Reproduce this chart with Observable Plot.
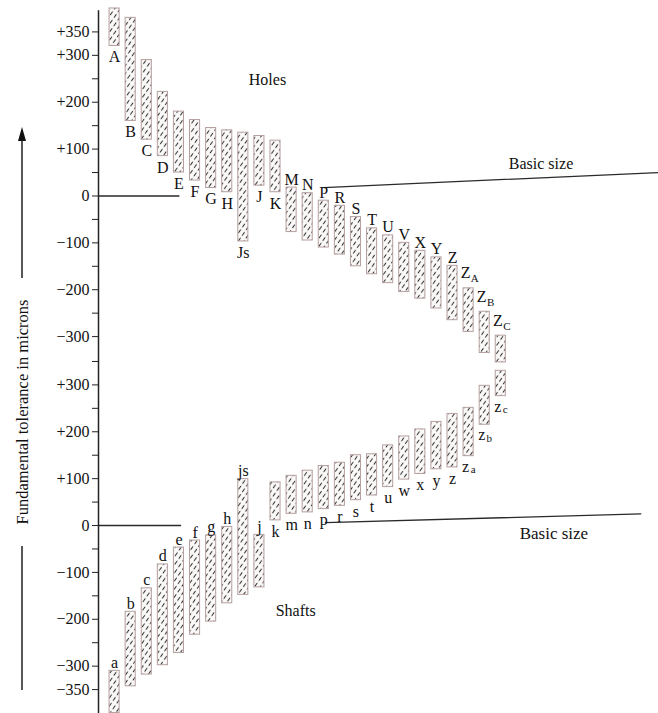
<!DOCTYPE html>
<html><head><meta charset="utf-8">
<script src="https://cdn.jsdelivr.net/npm/d3@7"></script>
<script src="https://cdn.jsdelivr.net/npm/@observablehq/plot@0.6"></script>
<style>body{margin:0;background:#fff} #chart svg{display:block}</style>
</head><body><div id="chart"></div>
<script>
// ---- data (values in microns) ----
const holeLabels = ["A","B","C","D","E","F","G","H","Js","J","K","M","N","P","R","S","T","U","V","X","Y","Z","ZA","ZB","ZC"];
const holeUpper  = [400,380,290,222,180,162,145,140,135,128,118,18,6,-10,-21,-45,-69,-84,-100,-117,-131,-149,-197,-247,-298];
const holeLower  = [320,160,120,85,50,33,17,8,-97,22,8,-77,-95,-110,-125,-150,-167,-186,-205,-219,-240,-265,-290,-335,-355];

const shaftLabels = ["a","b","c","d","e","f","g","h","js","j","k","m","n","p","r","s","t","u","w","x","y","z","za","zb","zc"];
const shaftUpper  = [-310,-184,-134,-83,-47,-32,-21,-3,99,-20,92,106,117,127,134,150,152,171,190,205,221,238,251,298,330];
const shaftLower  = [-400,-343,-318,-298,-272,-233,-205,-166,-148,-132,11,25,28,35,42,54,64,82,98,110,120,124,148,215,276];

const holeTicksMajor  = [350,300,200,100,0,-100,-200,-300];
const holeTicksMinor  = [250,150,50,-50,-150,-250];
const shaftTicksMajor = [300,200,100,0,-100,-200,-300,-350];
const shaftTicksMinor = [350,250,150,50,-50,-150,-250];

// basic-size reference lines: [category position, microns]
const holeBasic1  = [[-1,0],[4.0,0]];
const holeBasic2  = [[13.0,18],[33.8,50]];
const shaftBasic1 = [[-1,0],[4.1,0]];
const shaftBasic2 = [[13.1,6],[32.7,25]];

const annotations = [
  {text:"Holes", x:9.5, v:248, panel:"holes", size:16},
  {text:"Basic size", x:26.5, v:68, panel:"holes", size:16},
  {text:"Shafts", x:11.25, v:-183, panel:"shafts", size:16},
  {text:"Basic size", x:27.3, v:-17, panel:"shafts", size:17}
];
const yTitleText = "Fundamental tolerance in microns";

// ---- layout: the shafts panel is drawn below the holes panel ----
const SHAFT_SHIFT = -703;
const shift = p => p === "shafts" ? SHAFT_SHIFT : 0;

const bars = [
  ...holeLabels.map((label,i)=>({label,i,hi:holeUpper[i],lo:holeLower[i],panel:"holes"})),
  ...shaftLabels.map((label,i)=>({label,i,hi:shaftUpper[i],lo:shaftLower[i],panel:"shafts"}))
].map(d => {
  const sub = /^z[a-c]$/i.test(d.label);
  return {...d, y1:d.lo+shift(d.panel), y2:d.hi+shift(d.panel),
    below: (d.hi+d.lo)/2 > 0, main: sub ? d.label[0] : d.label, sub: sub ? d.label[1] : null};
});

const fmt = v => v > 0 ? "+" + v : v < 0 ? "\u2212" + Math.abs(v) : "0";
const lineData = (pts, panel) => pts.map(([x,v]) => ({x, y: v + shift(panel)}));

function hatchDefs() {
  const g = d3.create("svg:g");
  const p = g.append("defs").append("pattern")
    .attr("id","hatch").attr("patternUnits","userSpaceOnUse")
    .attr("width",4.6).attr("height",7).attr("patternTransform","rotate(35)");
  p.append("rect").attr("width",4.6).attr("height",7).attr("fill","#fcf9f9");
  p.append("line").attr("x1",2.3).attr("x2",2.3).attr("y1",0.8).attr("y2",5.2)
    .attr("stroke","#333").attr("stroke-width",1.05);
  return g.node();
}

function yTitle() {
  const g = d3.create("svg:g").attr("fill","#111").attr("stroke","#111");
  const cx = 22, cy = 412;
  g.append("text").attr("transform",`translate(${cx},${cy}) rotate(-90)`)
    .attr("text-anchor","middle").attr("dy","0.35em").attr("stroke","none")
    .attr("font-size",16.5).text(yTitleText);
  g.append("line").attr("x1",cx).attr("x2",cx).attr("y1",cy+134).attr("y2",690).attr("stroke-width",1.4);
  g.append("line").attr("x1",cx).attr("x2",cx).attr("y1",cy-134).attr("y2",138).attr("stroke-width",1.4);
  g.append("path").attr("d",`M${cx-4},${141}L${cx},${127}L${cx+4},${141}Z`).attr("stroke","none");
  return g.node();
}

const textBase = {x:"i", fill:"#111", fontSize:16};
const plot = Plot.plot({
  width: 658, height: 713,
  marginLeft: 98, marginRight: 0, marginTop: 0, marginBottom: 0,
  x: {type:"linear", domain:[-1, 33.8], axis:null},
  y: {domain:[-1104, 417], axis:null},
  style: {fontFamily:"'Liberation Serif', 'DejaVu Serif', serif", fontSize:"16px", background:"#fff", color:"#111"},
  marks: [
    hatchDefs,
    yTitle,
    Plot.ruleX([-1], {y1:395, y2:-1104, stroke:"#222", strokeWidth:1.5}),
    Plot.axisY(holeTicksMajor, {anchor:"left", tickSize:6, tickPadding:3, tickFormat:fmt, fontSize:16, label:null, stroke:"#222"}),
    Plot.axisY(holeTicksMinor, {anchor:"left", tickSize:6, tickFormat:()=>"", label:null, stroke:"#222"}),
    Plot.axisY(shaftTicksMajor.map(v=>v+SHAFT_SHIFT), {anchor:"left", tickSize:6, tickPadding:3, tickFormat:v=>fmt(Math.round(v-SHAFT_SHIFT)), fontSize:16, label:null, stroke:"#222"}),
    Plot.axisY(shaftTicksMinor.map(v=>v+SHAFT_SHIFT), {anchor:"left", tickSize:6, tickFormat:()=>"", label:null, stroke:"#222"}),
    // basic size lines
    ...[[holeBasic1,"holes"],[holeBasic2,"holes"],[shaftBasic1,"shafts"],[shaftBasic2,"shafts"]].map(([pts,p]) =>
      Plot.line(lineData(pts,p), {x:"x", y:"y", stroke:"#2a2a2a", strokeWidth:1.3})),
    // tolerance zones
    Plot.rect(bars, {x1:d=>d.i-0.5, x2:d=>d.i+0.5, y1:"y1", y2:"y2", insetLeft:3, insetRight:3,
      fill:"url(#hatch)", stroke:"#b5a0a0", strokeWidth:1}),
    // labels
    Plot.text(bars.filter(d=>d.below && !d.sub), {...textBase, y:"y1", text:"main", lineAnchor:"top", dy:5}),
    Plot.text(bars.filter(d=>d.below && d.sub), {...textBase, y:"y1", text:"main", lineAnchor:"top", dy:4, dx:-3}),
    Plot.text(bars.filter(d=>!d.below && !d.sub), {...textBase, y:"y2", text:"main", lineAnchor:"bottom", dy:-3}),
    Plot.text(bars.filter(d=>!d.below && d.sub), {...textBase, y:"y2", text:"main", lineAnchor:"bottom", dy:-10, dx:-3}),
    Plot.text(bars.filter(d=>!d.below && d.sub), {...textBase, y:"y2", text:"sub", lineAnchor:"bottom", dy:-6, dx:6, fontSize:11}),
    Plot.text(bars.filter(d=>d.below && d.sub), {...textBase, y:"y1", text:"sub", lineAnchor:"top", dy:9, dx:4.5, fontSize:11}),
    // annotations
    Plot.text(annotations, {x:"x", y:d=>d.v+shift(d.panel), text:"text", fontSize:d=>d.size, fill:"#111"})
  ]
});
document.getElementById("chart").append(plot);
</script>
</body></html>
